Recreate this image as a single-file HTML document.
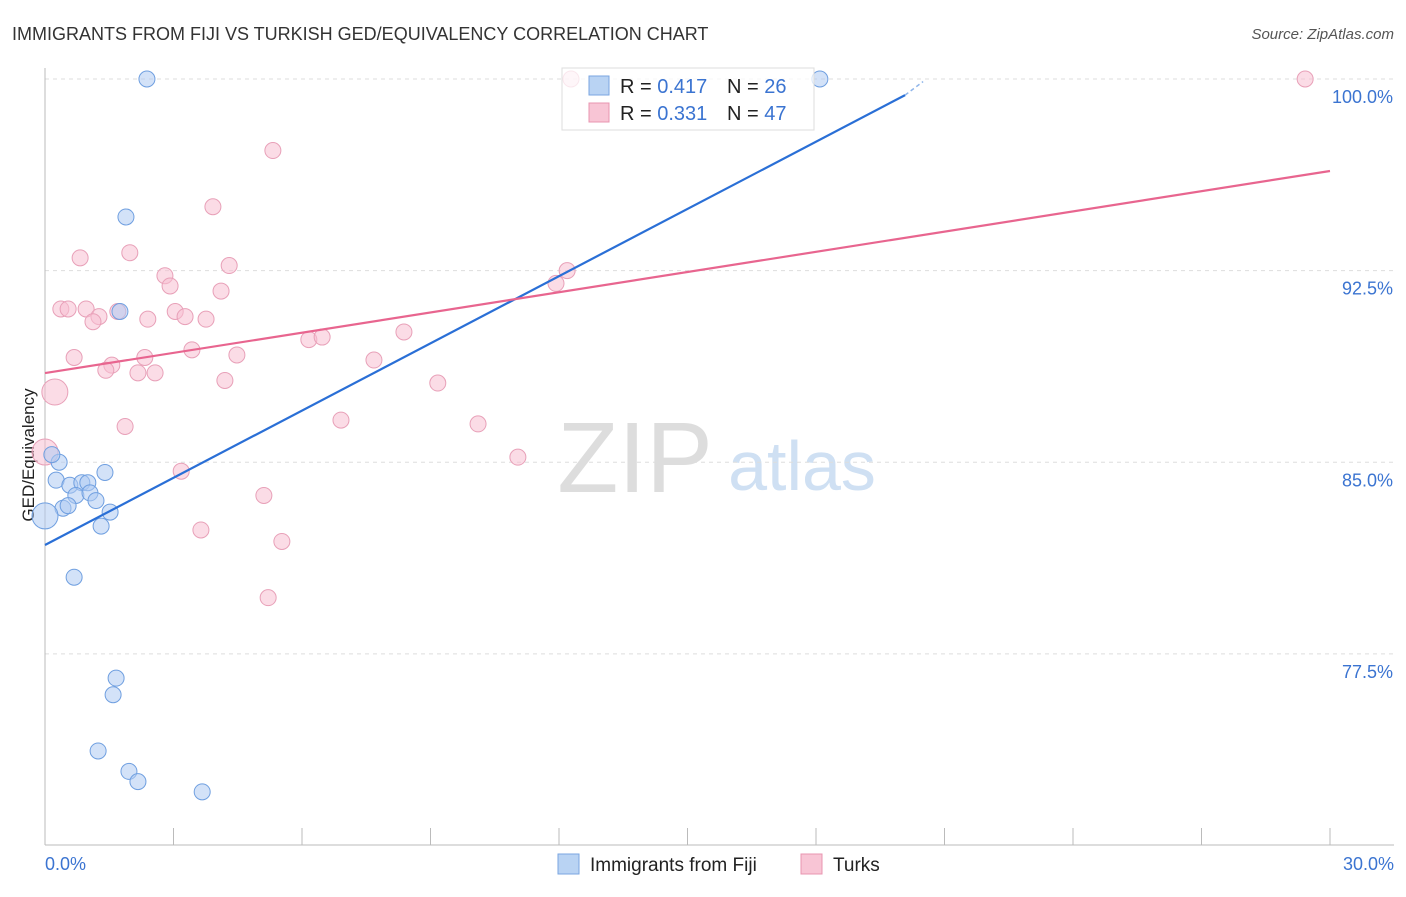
<!DOCTYPE html>
<html><head><meta charset="utf-8"><style>
body{margin:0;background:#fff;font-family:"Liberation Sans",sans-serif}
svg text{font-family:"Liberation Sans",sans-serif}
</style></head><body>
<svg id="chart" width="1406" height="892" viewBox="0 0 1406 892">
<text x="12" y="40" font-size="18" fill="#333">IMMIGRANTS FROM FIJI VS TURKISH GED/EQUIVALENCY CORRELATION CHART</text>
<text x="1394" y="39" font-size="15" fill="#555" text-anchor="end" font-style="italic">Source: ZipAtlas.com</text>
<text x="0" y="0" transform="translate(34,455) rotate(-90)" font-size="17" fill="#222" text-anchor="middle">GED/Equivalency</text>
<g><text x="635" y="492" font-size="100" fill="#ddd" text-anchor="middle" font-family="Liberation Serif">ZIP</text><text x="802" y="490" font-size="70" fill="#cfe0f3" text-anchor="middle">atlas</text></g>
<g id="grid"></g><g id="axes"></g><g id="marks"></g>
<g>
<rect x="562" y="68" width="252" height="62" fill="#fff" fill-opacity="0.75" stroke="#ddd"/>
<rect x="589" y="76" width="20" height="19" fill="#b9d3f3" stroke="#7aa6e0"/>
<text x="620" y="93" font-size="20" fill="#222">R = <tspan fill="#3b74d1">0.417</tspan></text>
<text x="727" y="93" font-size="20" fill="#222">N = <tspan fill="#3b74d1">26</tspan></text>
<rect x="589" y="103" width="20" height="19" fill="#f8c5d5" stroke="#e895b0"/>
<text x="620" y="120" font-size="20" fill="#222">R = <tspan fill="#3b74d1">0.331</tspan></text>
<text x="727" y="120" font-size="20" fill="#222">N = <tspan fill="#3b74d1">47</tspan></text>
</g>
<g>
<rect x="558" y="854" width="21" height="20" fill="#b9d3f3" stroke="#7aa6e0"/>
<text x="590" y="871" font-size="19" fill="#222">Immigrants from Fiji</text>
<rect x="801" y="854" width="21" height="20" fill="#f8c5d5" stroke="#e895b0"/>
<text x="833" y="871" font-size="19" fill="#222">Turks</text>
</g>
<g id="top"></g>
</svg>
<script>
const yTicks=[100,92.5,85,77.5];
const yTickLabels=["100.0%","92.5%","85.0%","77.5%"];
const xTickLabels=["0.0%","30.0%"];
const fijiX=[2.38,18.09,1.89,1.75,0.33,0.16,0.26,1.40,0.58,0.86,1.00,0.72,1.05,1.19,0.42,0.54,1.52,1.31,0.0,0.68,1.66,1.59,1.24,1.96,2.17,3.67];
const fijiY=[100,100,94.6,90.9,85.0,85.3,84.3,84.6,84.1,84.2,84.2,83.7,83.8,83.5,83.2,83.3,83.05,82.5,82.9,80.5,76.55,75.9,73.7,72.9,72.5,72.1];
const fijiBig=[18];
const turkX=[12.28,29.42,5.32,3.92,1.98,0.82,4.30,2.80,2.92,4.11,12.19,11.93,0.37,0.54,0.96,1.26,1.12,1.70,2.40,3.04,3.27,3.76,8.38,6.16,6.47,0.68,3.43,4.48,2.33,7.68,1.56,1.42,2.17,2.57,4.20,0.23,9.17,6.91,10.11,1.87,11.04,0,3.18,5.11,3.64,5.53,5.21];
const turkY=[100,100,97.2,95.0,93.2,93.0,92.7,92.3,91.9,91.7,92.5,92.0,91.0,91.0,91.0,90.7,90.5,90.9,90.6,90.9,90.7,90.6,90.1,89.8,89.9,89.1,89.4,89.2,89.1,89.0,88.8,88.6,88.5,88.5,88.2,87.75,88.1,86.65,86.5,86.4,85.2,85.4,84.65,83.7,82.35,81.9,79.7];
const turkBig=[35,41];
const fijiTrend=[[0,81.76],[20.08,99.37],[20.5,99.9]];
const turkTrend=[[0,88.49],[30,96.4]];
const NS="http://www.w3.org/2000/svg";
const xs=v=>45+v/30*1285, ys=v=>79+(100-v)*25.55;
function mk(tag,attrs,parent){const e=document.createElementNS(NS,tag);for(const k in attrs)e.setAttribute(k,attrs[k]);document.getElementById(parent).appendChild(e);return e;}
yTicks.forEach((t,i)=>{
 const l=mk('line',{x1:45,x2:1394,y1:ys(t),y2:ys(t),stroke:'#ddd','stroke-dasharray':'4,4'},'grid');
 
 
 const tx=mk('text',{x:1393,y:ys(t)+24,'font-size':18,fill:'#3b74d1','text-anchor':'end'},'axes');tx.textContent=yTickLabels[i];
 
 
});
const ax=mk('line',{x1:45,x2:45,y1:68,y2:845,stroke:'#bbb'},'axes');


const bx=mk('line',{x1:45,x2:1394,y1:845,y2:845,stroke:'#bbb'},'axes');


for(let i=0;i<=10;i++){const t=mk('line',{x1:xs(i*3),x2:xs(i*3),y1:828,y2:845,stroke:'#bbb'},'axes');
 
 }
[[0,'start',45],[30,'end',1394]].forEach((d,i)=>{const t=mk('text',{x:d[2],y:870,'font-size':18,fill:'#3b74d1','text-anchor':d[1]},'axes');t.textContent=xTickLabels[i];
 
 });
function pts(X,Y,big,fill,stroke,name){X.forEach((x,i)=>{const c=mk('circle',{cx:xs(x),cy:ys(Y[i]),r:big.includes(i)?13:8,fill:fill,'fill-opacity':0.55,stroke:stroke,'stroke-width':1},'marks');
 
 });}
pts(turkX,turkY,turkBig,'#f8c0d2','#e8a0b8','turks-point');
pts(fijiX,fijiY,fijiBig,'#aecbf2','#6f9fe0','fiji-point');
const f1=mk('line',{x1:xs(fijiTrend[0][0]),y1:ys(fijiTrend[0][1]),x2:xs(fijiTrend[1][0]),y2:ys(fijiTrend[1][1]),stroke:'#2a6fd6','stroke-width':2.2},'marks');


const f2=mk('line',{x1:xs(fijiTrend[1][0]),y1:ys(fijiTrend[1][1]),x2:xs(fijiTrend[2][0]),y2:ys(fijiTrend[2][1]),stroke:'#8fb5ea','stroke-width':1.5,'stroke-dasharray':'4,3'},'marks');


const t1=mk('line',{x1:xs(turkTrend[0][0]),y1:ys(turkTrend[0][1]),x2:xs(turkTrend[1][0]),y2:ys(turkTrend[1][1]),stroke:'#e8658f','stroke-width':2.2},'marks');


</script>
</body></html>
